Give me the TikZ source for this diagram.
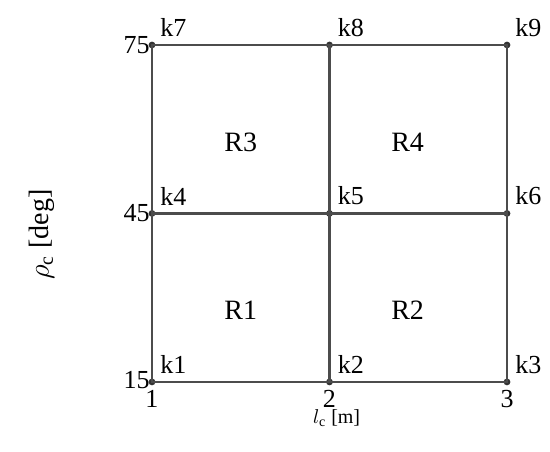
\documentclass[tikz,border=0pt]{standalone}
\usepackage{fontspec}
\setmainfont{Liberation Serif}
\usetikzlibrary{positioning}
\tikzset{
  pt/.style   = {circle, fill=black!80, inner sep=0pt, minimum size=3.4pt},
  edge/.style = {draw=black!70, line width=1.1pt},
  klab/.style = {anchor=south west, inner sep=1pt, font=\fontsize{13}{13}\selectfont},
  tick/.style = {inner sep=1pt, font=\fontsize{13}{13}\selectfont},
  reg/.style  = {font=\fontsize{14}{14}\selectfont},
  axl/.style  = {font=\fontsize{10}{10}\selectfont}
}

\begin{document}
\begin{tikzpicture}[x=88.75pt, y=2.808pt]
\useasboundingbox (0.1437,2.537) rectangle (3.2423,83.01);
%% grid points
\node[pt] (k1) at (1,15) {};
\node[pt] (k2) at (2,15) {};
\node[pt] (k3) at (3,15) {};
\node[pt] (k4) at (1,45) {};
\node[pt] (k5) at (2,45) {};
\node[pt] (k6) at (3,45) {};
\node[pt] (k7) at (1,75) {};
\node[pt] (k8) at (2,75) {};
\node[pt] (k9) at (3,75) {};
%% edges
\draw[edge] (k1.center) -- (k3.center) -- (k9.center) -- (k7.center) -- cycle;
\draw[edge] (k4.center) -- (k6.center);
\draw[edge] (k2.center) -- (k8.center);
%% point labels
\node[klab] at ([xshift=3pt, yshift=3pt]k1.center) {k1};
\node[klab] at ([xshift=3pt, yshift=3pt]k2.center) {k2};
\node[klab] at ([xshift=3pt, yshift=3pt]k3.center) {k3};
\node[klab] at ([xshift=3pt, yshift=3pt]k4.center) {k4};
\node[klab] at ([xshift=3pt, yshift=3pt]k5.center) {k5};
\node[klab] at ([xshift=3pt, yshift=3pt]k6.center) {k6};
\node[klab] at ([xshift=3pt, yshift=3pt]k7.center) {k7};
\node[klab] at ([xshift=3pt, yshift=3pt]k8.center) {k8};
\node[klab] at ([xshift=3pt, yshift=3pt]k9.center) {k9};
%% regions
\node[reg] (r1) at (1.50,27.7) {R1};
\node[reg] (r2) at (2.44,27.7) {R2};
\node[reg] (r3) at (1.50,57.6) {R3};
\node[reg] (r4) at (2.44,57.6) {R4};
%% ticks
\node[tick, anchor=east] at ([yshift=1pt]k1.center) {15};
\node[tick, anchor=east] at (k4.center) {45};
\node[tick, anchor=east] at (k7.center) {75};
\node[tick, anchor=north] at ([yshift=-3pt]k1.center) {1};
\node[tick, anchor=north] at ([yshift=-3pt]k2.center) {2};
\node[tick, anchor=north] at ([yshift=-3pt]k3.center) {3};
%% axis labels
\node[axl] (xl) at (2.04,8.5) {$l_{\mathrm{c}}$ [m]};
\node[axl, rotate=90, font=\fontsize{14}{14}\selectfont] (yl) at (0.38,41.2) {$\rho_{\mathrm{c}}$ [deg]};
\end{tikzpicture}
\end{document}
